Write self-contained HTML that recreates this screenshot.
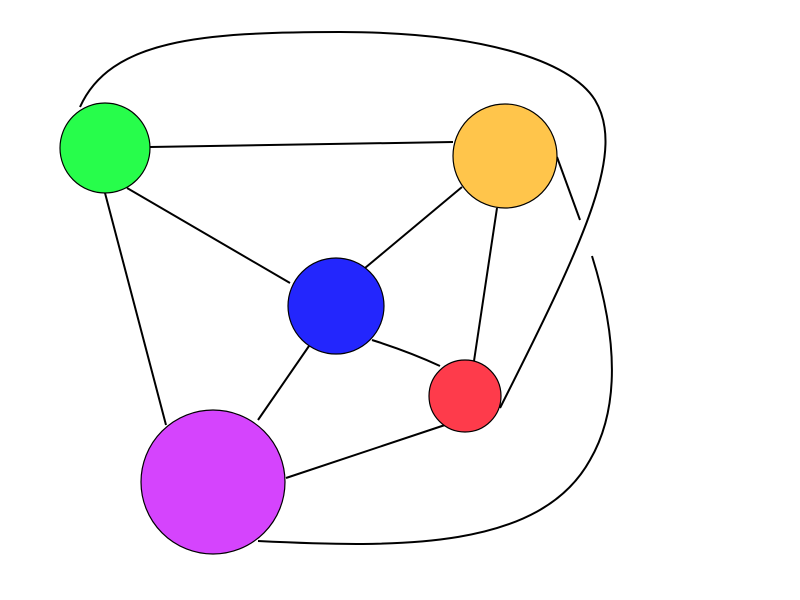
<!DOCTYPE html>
<html><head><meta charset="utf-8"><style>html,body{margin:0;padding:0;background:#fff}svg{display:block}</style></head>
<body>
<svg width="800" height="600" viewBox="0 0 800 600" xmlns="http://www.w3.org/2000/svg">
<g fill="none" stroke="#000" stroke-width="2">
<path d="M80,107 C110,40 200,32 340,32 C480,32 570,60 595,100 C625,150 590,230 500,408"/>
<path d="M557,157 L580,220"/>
<path d="M592,256 C612,320 625,400 590,460 C540,550 400,548 258,541"/>
<line x1="150" y1="147" x2="453" y2="142"/>
<line x1="127" y1="188" x2="290" y2="283"/>
<line x1="105" y1="193" x2="166" y2="425"/>
<line x1="462" y1="187" x2="365" y2="268"/>
<line x1="497" y1="208" x2="474" y2="361"/>
<line x1="309" y1="346" x2="258" y2="420"/>
<path d="M372,340 Q410,352 440,366"/>
<line x1="445" y1="425" x2="286" y2="478"/>
</g>
<g stroke="#000" stroke-width="1.2">
<circle cx="105" cy="148" r="45" fill="#27fd4b"/>
<circle cx="505" cy="156" r="52" fill="#ffc54b"/>
<circle cx="336" cy="306" r="48" fill="#2326fd"/>
<circle cx="465" cy="396" r="36" fill="#fe3b4b"/>
<circle cx="213" cy="482" r="72" fill="#d544fd"/>
</g>
</svg>
</body></html>
